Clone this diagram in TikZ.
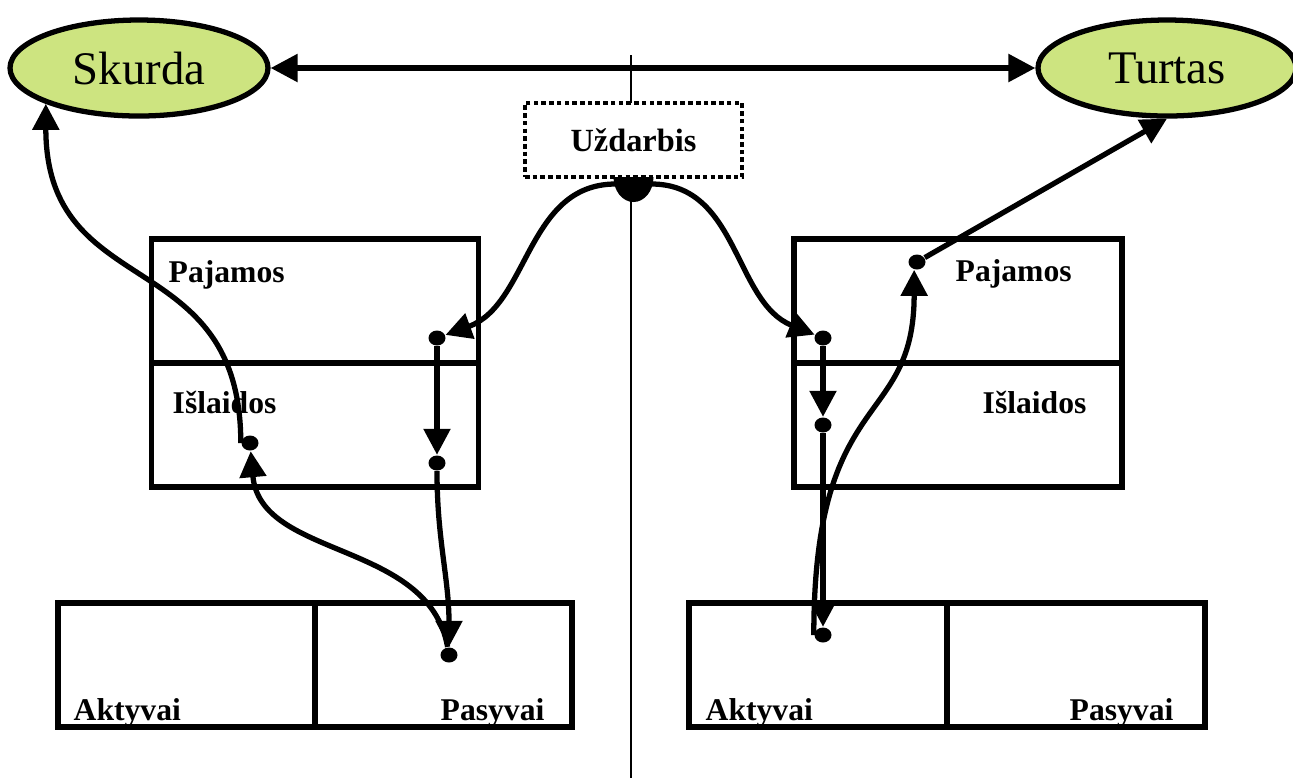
\documentclass[tikz,border=0pt]{standalone}
\usepackage{fontspec}
\setmainfont{Liberation Serif}
\usetikzlibrary{arrows.meta,shapes.geometric}
\definecolor{ellgreen}{RGB}{205,228,128}

\begin{document}
\begin{tikzpicture}[
		goal/.style={ellipse, draw, line width=1.5pt, fill=ellgreen, minimum width=2.58cm, minimum height=0.96cm, inner sep=0pt, font=\fontsize{13.3}{16}\selectfont},
		cell/.style={draw, line width=1.7pt, inner sep=0pt},
		lbl/.style={anchor=base west, inner sep=0pt, font=\fontsize{9}{11}\selectfont\bfseries},
		pt/.style={ellipse, fill, minimum width=0.17cm, minimum height=0.15cm, inner sep=0pt},
		flow/.style={line width=1.5pt, -{Triangle[length=2.6mm,width=2.6mm]}},
		axis/.style={line width=0.7pt}
	]
		\useasboundingbox (0,0) rectangle (12.93,-7.78);
		\node[goal] (skurda) at (1.39,-0.68) {Skurda};
		\node[goal] (turtas) at (11.67,-0.68) {Turtas};
		\draw[line width=1.6pt, {Triangle[length=2.7mm,width=2.7mm]}-{Triangle[length=2.7mm,width=2.7mm]}] (skurda) -- (turtas);
		\node[draw, line width=1pt, dash pattern=on 1.3pt off 0.9pt, minimum width=2.17cm, minimum height=0.74cm, outer sep=0pt, font=\fontsize{9.2}{11}\selectfont\bfseries] (uzdarbis) at (6.335,-1.40) {Uždarbis};
		%middle line
		\coordinate (ltop) at (6.31,-0.55);
		\coordinate (lbot) at (6.31,-7.78);
		\draw[axis] (ltop) -- (ltop |- uzdarbis.north);
		\draw[axis] (ltop |- uzdarbis.south) -- (lbot);
		\fill ([xshift=-2mm]uzdarbis.south) arc[start angle=180, end angle=360, x radius=2mm, y radius=2.5mm] -- cycle;
		\coordinate (hl) at ([shift={(-0.18,-0.07)}]uzdarbis.south);
		\coordinate (hr) at ([shift={(0.18,-0.07)}]uzdarbis.south);
		%left
		\node[cell, minimum width=3.27cm, minimum height=1.24cm] (lpaj) at (3.15,-3.01) {};
		\node[cell, minimum width=3.27cm, minimum height=1.24cm] (lisl) at (3.15,-4.25) {};
		\node[cell, minimum width=2.57cm, minimum height=1.24cm] (lakt) at (1.865,-6.65) {};
		\node[cell, minimum width=2.57cm, minimum height=1.24cm] (lpas) at (4.435,-6.65) {};
		\node[lbl] (lpajt) at (1.68,-2.82) {Pajamos};
		\node[lbl] (lislt) at (1.72,-4.13) {Išlaidos};
		\node[lbl] (laktt) at (0.73,-7.20) {Aktyvai};
		\node[lbl] (lpast) at (4.40,-7.20) {Pasyvai};
		\node[pt] (ld1) at (4.37,-3.38) {};
		\node[pt] (ld2) at (4.37,-4.63) {};
		\node[pt] (ld3) at (2.50,-4.43) {};
		\node[pt] (ld4) at (4.49,-6.55) {};
		\draw[flow] (hl) to[out=180,in=20] (ld1);
		\draw[flow] (ld1) -- (ld2);
		\draw[flow] (ld2) to[out=-90,in=90] (ld4);
		\draw[flow] (ld4) to[out=100,in=-85] (ld3);
		\draw[flow] (ld3.west) .. controls +(0,2) and +(0,-2) .. (skurda.201);
		%right
		\node[cell, minimum width=3.28cm, minimum height=1.24cm] (rpaj) at (9.58,-3.01) {};
		\node[cell, minimum width=3.28cm, minimum height=1.24cm] (risl) at (9.58,-4.25) {};
		\node[cell, minimum width=2.58cm, minimum height=1.24cm] (rakt) at (8.18,-6.65) {};
		\node[cell, minimum width=2.58cm, minimum height=1.24cm] (rpas) at (10.76,-6.65) {};
		\node[lbl] (rpajt) at (9.55,-2.81) {Pajamos};
		\node[lbl] (rislt) at (9.82,-4.13) {Išlaidos};
		\node[lbl] (raktt) at (7.05,-7.20) {Aktyvai};
		\node[lbl] (rpast) at (10.69,-7.20) {Pasyvai};
		\node[pt] (rd1) at (8.23,-3.38) {};
		\node[pt] (rd2) at (8.23,-4.25) {};
		\node[pt] (rd3) at (9.17,-2.62) {};
		\node[pt] (rd4) at (8.23,-6.35) {};
		\draw[flow] (hr) to[out=0,in=158] (rd1);
		\draw[flow] (rd1) -- (rd2);
		\draw[flow] (rd2) -- (rd4);
		\draw[flow] (rd4.west) .. controls +(0,2.5) and +(0,-1.6) .. (rd3.250);
		\draw[flow] (rd3) -- (turtas.south);
\end{tikzpicture}
\end{document}
